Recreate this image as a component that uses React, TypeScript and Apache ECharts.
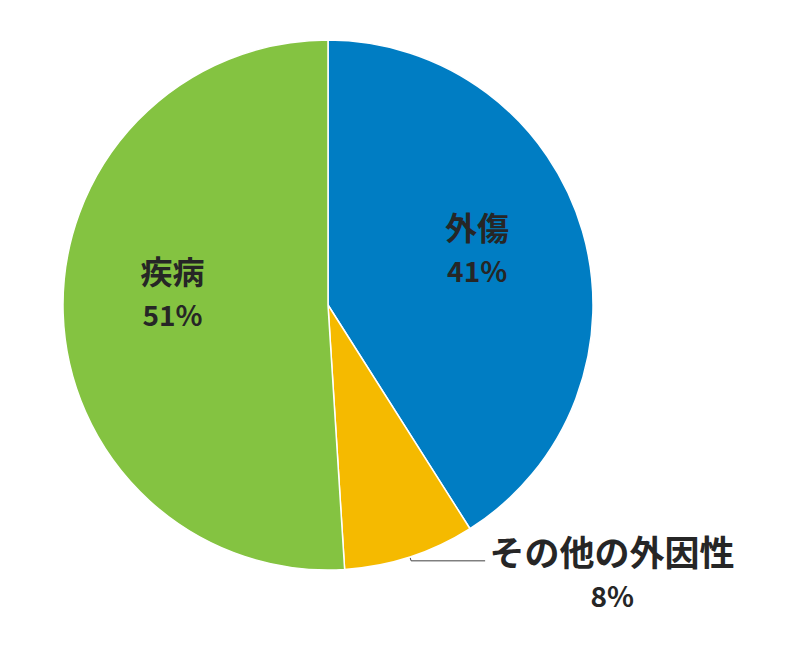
import React, { useEffect, useRef } from 'react';
import * as echarts from 'echarts';

// 構成比（%）
const categories = ['外傷', 'その他の外因性', '疾病'];
const values = [41, 8, 51];
const colors = ['#007DC3', '#F5BA00', '#84C341'];

const FONT = '"Noto Sans CJK JP", "Noto Sans", sans-serif';

const App: React.FC = () => {
  const chartRef = useRef<HTMLDivElement>(null);

  useEffect(() => {
    document.body.style.margin = '0';
    if (!chartRef.current) return;
    const chart = echarts.init(chartRef.current, undefined, { renderer: 'svg' });

    // 内側ラベルの微調整
    const insideShift: Record<number, [number, number]> = {
      0: [19, -19],
      2: [-20, -17]
    };

    chart.setOption({
      animation: false,
      backgroundColor: '#ffffff',
      series: [
        {
          type: 'pie',
          center: [328, 305],
          radius: 265,
          startAngle: 90,
          clockwise: true,
          itemStyle: { borderColor: '#ffffff', borderWidth: 1.5 },
          labelLayout: (p: any) => {
            const s = insideShift[p.dataIndex];
            return s ? { dx: s[0], dy: s[1] } : {};
          },
          data: categories.map((name, i) => {
            const outside = i === 1;
            return {
              name,
              value: values[i],
              itemStyle: { color: colors[i] },
              label: {
                show: true,
                position: outside ? 'outside' : 'inside',
                formatter: (p: any) => `{n|${p.name}}\n{p|${Math.round(p.percent)}%}`,
                padding: outside ? [24, 0, 0, 0] : 0,
                distanceToLabelLine: 2,
                rich: outside
                  ? {
                      n: { fontFamily: FONT, fontSize: 35, fontWeight: 'bold', color: '#262626', width: 250, align: 'center', lineHeight: 44 },
                      p: { fontFamily: FONT, fontSize: 28, fontWeight: 'bold', color: '#262626', width: 250, align: 'center', lineHeight: 44 }
                    }
                  : {
                      n: { fontFamily: FONT, fontSize: 32, fontWeight: 'bold', color: '#262626', align: 'center', lineHeight: 44 },
                      p: { fontFamily: FONT, fontSize: 28, fontWeight: 'bold', color: '#262626', align: 'center', lineHeight: 44 }
                    }
              },
              labelLine: outside
                ? { show: true, length: 4, length2: 74, smooth: false, lineStyle: { color: '#404040', width: 1 } }
                : { show: false }
            };
          })
        }
      ]
    });

    return () => {
      chart.dispose();
    };
  }, []);

  return <div ref={chartRef} style={{ width: 800, height: 656 }} />;
};

export default App;
